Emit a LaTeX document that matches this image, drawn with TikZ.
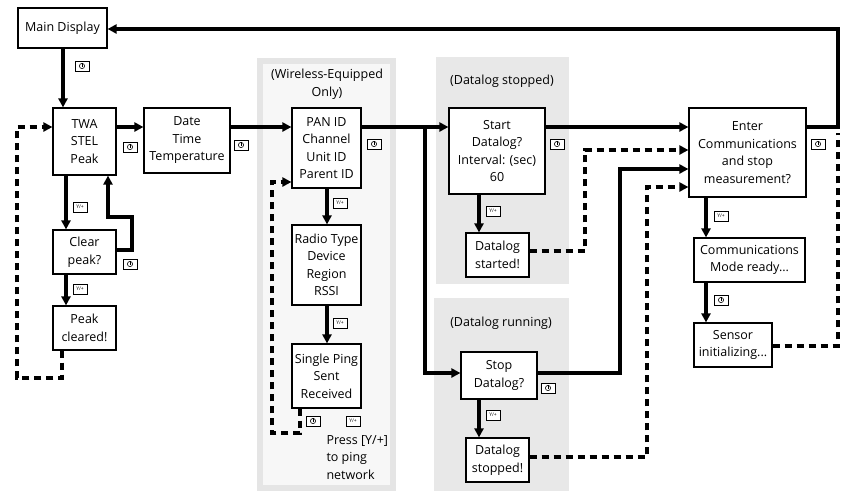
\documentclass[tikz,border=0pt]{standalone}
\usepackage{fontspec}
\setmainfont{Open Sans}
\usetikzlibrary{arrows.meta}
\tikzset{
	box/.style={draw, line width=1.2pt, fill=white, align=center, inner sep=1pt, font=\fontsize{12.5}{17.5}\selectfont},
	flow/.style={line width=3.2pt, ->},
	back/.style={line width=3.2pt, dash pattern=on 7pt off 5pt, ->},
	key/.style={draw, line width=0.7pt, fill=white, minimum width=14pt, minimum height=10pt, inner sep=0pt, font=\fontsize{5}{5}\selectfont},
	zone/.style={fill=black!9},
	lbl/.style={font=\fontsize{12.5}{17.5}\selectfont, align=center},
	pwr/.pic={\node[key] {}; \draw[line width=0.6pt] (0,0) circle (2.6pt); \draw[line width=0.6pt] (0,-3) -- (0,0.5);},
	>={Triangle[length=9pt,width=9pt]}
}
\begin{document}
\begin{tikzpicture}[x=1pt, y=-1pt]
	\useasboundingbox (0,0) rectangle (861,499);
	% grey zones
	\draw[line width=6pt, black!10, fill=black!3] (260,61) rectangle (393,488);
	\fill[zone] (436,57) rectangle (569,284);
	\fill[zone] (434,298) rectangle (569,491);
	\node[lbl] at (327,84) {(Wireless-Equipped\\Only)};
	\node[lbl] at (502,81) {(Datalog stopped)};
	\node[lbl] at (501,323) {(Datalog running)};
	\node[lbl, align=left, anchor=north west] at (323,432) {Press [Y/+]\\to ping\\network};

	% boxes
	\node[box, minimum width=89pt, minimum height=40pt] (main) at (62.5,28) {Main Display};
	\node[box, minimum width=63pt, minimum height=67pt] (twa) at (84.5,141.5) {TWA\\STEL\\Peak};
	\node[box, minimum width=86pt, minimum height=65pt] (date) at (187,140.5) {Date\\Time\\Temperature};
	\node[box, minimum width=63pt, minimum height=44pt] (clear) at (84.5,252) {Clear\\peak?};
	\node[box, minimum width=63pt, minimum height=44pt] (cleared) at (84.5,328) {Peak\\cleared!};
	\node[box, minimum width=69pt, minimum height=80pt] (pan) at (326.5,148) {PAN ID\\Channel\\Unit ID\\Parent ID};
	\node[box, minimum width=69pt, minimum height=80pt] (radio) at (326.5,265) {Radio Type\\Device\\Region\\RSSI};
	\node[box, minimum width=69pt, minimum height=64pt] (ping) at (326.5,376) {Single Ping\\Sent\\Received};
	\node[box, minimum width=96pt, minimum height=86pt] (start) at (497,151) {Start\\Datalog?\\Interval: (sec)\\60};
	\node[box, minimum width=63pt, minimum height=44pt] (started) at (497.5,255) {Datalog\\started!};
	\node[box, minimum width=76pt, minimum height=47pt] (stop) at (499,375.5) {Stop\\Datalog?};
	\node[box, minimum width=63pt, minimum height=44pt] (stopped) at (497.5,460) {Datalog\\stopped!};
	\node[box, minimum width=117pt, minimum height=89pt] (comm) at (747.5,152.5) {Enter\\Communications\\and stop\\measurement?};
	\node[box, minimum width=111pt, minimum height=44pt] (ready) at (749.5,260) {Communications\\Mode ready...};
	\node[box, minimum width=78pt, minimum height=44pt] (sensor) at (733,345) {Sensor\\initializing...};

	% corner points
	\coordinate (top) at (838,29);
	\coordinate (split) at (425,127);

	% forward paths
	\draw[flow] (main.south -| 63,0) -- (twa.north -| 63,0);
	\draw[flow] (twa.east |- 0,127) -- (date.west |- 0,127);
	\draw[flow] (date.east |- 0,127) -- (pan.west |- 0,127);
	\draw[line width=3.2pt] (pan.east |- 0,127) -- (split);
	\draw[flow] (split) -- (start.west |- 0,127);
	\draw[flow] (split) |- (stop.west |- 0,373);
	\draw[flow] (start.east |- 0,127) -- (comm.west |- 0,127);
	\draw[flow] (stop.east |- 0,373) -- (620,373) |- (comm.west |- 0,169);
	\draw[flow] (comm.east |- 0,127) -| (top) -- (main.east |- 0,29);
	\draw[flow] (twa.south -| 66,0) -- (clear.north -| 66,0);
	\draw[flow] (clear.east |- 0,250) -- (132,250) -- (132,217) -- (108,217) -- (twa.south -| 108,0);
	\draw[flow] (clear.south -| 66,0) -- (cleared.north -| 66,0);
	\draw[flow] (pan.south -| 327,0) -- (radio.north -| 327,0);
	\draw[flow] (radio.south -| 327,0) -- (ping.north -| 327,0);
	\draw[flow] (start.south -| 479,0) -- (started.north -| 479,0);
	\draw[flow] (stop.south -| 479,0) -- (stopped.north -| 479,0);
	\draw[flow] (comm.south -| 706,0) -- (ready.north -| 706,0);
	\draw[flow] (ready.south -| 706,0) -- (sensor.north -| 706,0);

	% back paths
	\draw[back] (cleared.south -| 62,0) -- (62,378) -- (17,378) |- (twa.west |- 0,127);
	\draw[back] (ping.south -| 300,0) -- (300,433) -- (272,433) |- (pan.west |- 0,182);
	\draw[back] (started.east |- 0,251) -- (585,251) |- (comm.west |- 0,150);
	\draw[back] (stopped.east |- 0,457) -- (647,457) |- (comm.west |- 0,187);
	\draw[line width=3.2pt, dash pattern=on 7pt off 5pt] (sensor.east |- 0,346) -- (838,346) -- (838,133);

	% keys
	\pic at (82,66) {pwr};
	\pic at (130,147) {pwr};
	\pic at (241,145) {pwr};
	\pic at (130,264) {pwr};
	\pic at (374,144) {pwr};
	\pic at (313,421) {pwr};
	\pic at (557,144) {pwr};
	\pic at (548,388) {pwr};
	\pic at (818,144) {pwr};
	\pic at (721,300) {pwr};
	\node[key] (k1) at (80,207) {Y/+};
	\node[key] (k2) at (80,289) {Y/+};
	\node[key] (k3) at (340,203) {Y/+};
	\node[key] (k4) at (340,323) {Y/+};
	\node[key] (k5) at (353,421) {Y/+};
	\node[key] (k6) at (493,211) {Y/+};
	\node[key] (k7) at (493,415) {Y/+};
	\node[key] (k8) at (721,216) {Y/+};
\end{tikzpicture}
\end{document}
